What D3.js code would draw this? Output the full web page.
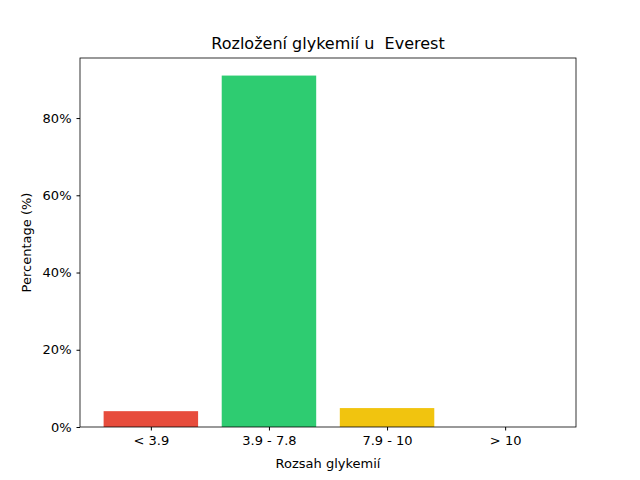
<!DOCTYPE html>
<html><head><meta charset="utf-8">
<script src="https://cdn.jsdelivr.net/npm/d3@7"></script>
<style>body{margin:0;background:#fff}text{font-family:"DejaVu Sans",sans-serif}</style>
</head><body><svg id="c" width="640" height="480"></svg>
<script>
const categories = ["< 3.9", "3.9 - 7.8", "7.9 - 10", "> 10"];
const values = [4.1, 91.0, 4.9, 0];
const colors = ["#e74c3c", "#2ecc71", "#f1c40f", "#9b59b6"];
const yTicks = [0, 20, 40, 60, 80];
const title = "Rozložení glykemií u  Everest";
const xLabel = "Rozsah glykemií";
const yLabel = "Percentage (%)";

const svg = d3.select("#c");
const L = 80, R = 576, T = 58, B = 427;
const x = d3.scaleLinear().domain([-0.6, categories.length - 0.4]).range([L, R]);
const y = d3.scaleLinear().domain([0, d3.max(values) * 1.05]).range([B, T]);

svg.selectAll("rect.bar").data(values).join("rect").attr("class","bar")
  .attr("x", (d,i) => x(i - 0.4)).attr("width", x(0.8) - x(0))
  .attr("y", d => y(d)).attr("height", d => B - y(d))
  .attr("fill", (d,i) => colors[i]);

const xa = svg.append("g").attr("transform", `translate(0,${B})`)
  .call(d3.axisBottom(x).tickValues(d3.range(categories.length)).tickFormat(i => categories[i]).tickSize(3.5).tickPadding(5));
const ya = svg.append("g").attr("transform", `translate(${L},0)`)
  .call(d3.axisLeft(y).tickValues(yTicks).tickFormat(d => d + "%").tickSize(3.5).tickPadding(5));
[xa, ya].forEach(a => { a.select(".domain").remove(); a.selectAll("text").attr("font-size", 13).attr("fill","#000").style("font-family","DejaVu Sans"); a.selectAll("line").attr("stroke","#000"); });

svg.append("rect").attr("x", L).attr("y", T).attr("width", R - L).attr("height", B - T)
  .attr("fill", "none").attr("stroke", "#000").attr("stroke-width", 0.8);

svg.append("text").attr("x", (L+R)/2).attr("y", 49).attr("text-anchor","middle")
  .attr("font-size", 16).style("white-space","pre").text(title);
svg.append("text").attr("x", (L+R)/2).attr("y", 468).attr("text-anchor","middle")
  .attr("font-size", 13).text(xLabel);
svg.append("text").attr("transform", `translate(31,${(T+B)/2}) rotate(-90)`).attr("text-anchor","middle")
  .attr("font-size", 13).text(yLabel);
</script></body></html>
